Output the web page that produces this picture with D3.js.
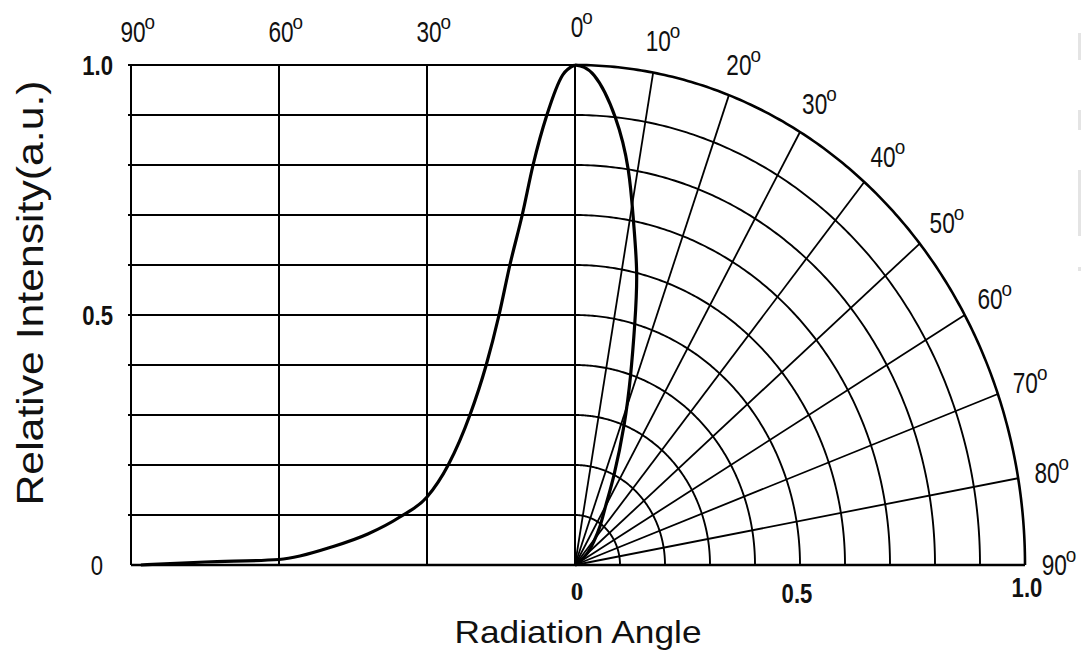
<!DOCTYPE html>
<html lang="en">
<head>
    <title>Radiation Pattern</title>
    <script src="https://d3js.org/d3.v7.min.js"></script>
</head>
<style type="text/css">
    body{ margin:0; background:#fff; }
    svg text{ fill:#111; font-family:"Liberation Sans",Arial,sans-serif; }
    .grid{ stroke:#000; fill:none; }
    .curve{ stroke:#000; stroke-width:3.2; fill:none; stroke-linejoin:round; }
</style>
<body>
<script>
    // radiation pattern (angle in degrees, relative intensity)
    var angles = [0, 2.5, 5.7, 8.5, 10.7, 13.2, 15.4, 18, 21.3, 25.7, 30, 35.5, 42, 49, 60, 75, 88];
    var intensity = [1.0, 0.98, 0.9, 0.8, 0.7, 0.6, 0.5, 0.4, 0.3, 0.2, 0.136, 0.096, 0.062, 0.037, 0.011, 0.006, 0.0];

    var leftTicks = [90, 60, 30, 0];            // top labels of the cartesian part
    var polarTicks = [10, 20, 30, 40, 50, 60, 70, 80, 90];
    var yTicks = [0, 0.5, 1.0];
    var rTicks = [0.5, 1.0];
    var rings = d3.range(1, 11).map(function(d){ return d / 10; });

    var width = 1081, height = 654;

    var svg = d3.select("body").append("svg")
        .attr("width", width)
        .attr("height", height);

    // scales: cartesian angle axis, intensity axis, polar radius (x direction)
    var x = d3.scaleLinear().domain([90, 0]).range([131, 575]);
    var y = d3.scaleLinear().domain([0, 1]).range([565, 65]);
    var rx = d3.scaleLinear().domain([0, 1]).range([575, 1025]);

    var rad = function(a){ return a * Math.PI / 180; };

    // horizontal grid on the left half
    svg.append("g").selectAll("line")
        .data(rings)
        .enter().append("line")
        .attr("class", "grid")
        .attr("stroke-width", 2)
        .attr("x1", x(90) - 3).attr("x2", x(0))
        .attr("y1", function(d){ return y(d); })
        .attr("y2", function(d){ return y(d); });

    // vertical grid lines + left border
    svg.append("g").selectAll("line")
        .data(leftTicks)
        .enter().append("line")
        .attr("class", "grid")
        .attr("stroke-width", 2)
        .attr("x1", function(d){ return x(d); })
        .attr("x2", function(d){ return x(d); })
        .attr("y1", y(0)).attr("y2", y(1));

    // bottom axis line across both halves
    svg.append("line").attr("class", "grid")
        .attr("stroke-width", 2.4)
        .attr("x1", x(90)).attr("x2", rx(1))
        .attr("y1", y(0)).attr("y2", y(0));

    // polar rings (quarter ellipses since x and y scales differ)
    var arcPath = function(r){
        return d3.line()
            .x(function(a){ return rx(r * Math.sin(rad(a))); })
            .y(function(a){ return y(r * Math.cos(rad(a))); })
            (d3.range(0, 90.5, 0.5));
    };
    svg.append("g").selectAll("path")
        .data(rings)
        .enter().append("path")
        .attr("class", "grid")
        .attr("stroke-width", function(d){ return d === 1 ? 2.6 : 1.9; })
        .attr("d", arcPath);

    // radial spokes
    svg.append("g").selectAll("line")
        .data(polarTicks.slice(0, 8))
        .enter().append("line")
        .attr("class", "grid")
        .attr("stroke-width", 1.8)
        .attr("x1", rx(0)).attr("y1", y(0))
        .attr("x2", function(d){ return rx(Math.sin(rad(d))); })
        .attr("y2", function(d){ return y(Math.cos(rad(d))); });

    // the data
    var pts = angles.map(function(a, i){ return {a: a, v: intensity[i]}; });

    svg.append("path").attr("class", "curve")
        .attr("d", d3.line()
            .curve(d3.curveMonotoneX)
            .x(function(d){ return x(d.a); })
            .y(function(d){ return y(d.v); })(pts));

    svg.append("path").attr("class", "curve")
        .attr("d", d3.line()
            .curve(d3.curveNatural)
            .x(function(d){ return rx(d.v * Math.sin(rad(d.a))); })
            .y(function(d){ return y(d.v * Math.cos(rad(d.a))); })(pts));

    // narrow text: regular font squeezed horizontally
    function narrow(sel, cx, cy, sx){
        return sel.attr("transform", "translate(" + cx + "," + cy + ") scale(" + sx + ",1)");
    }

    // degree labels with little superscript "o"
    function degLabel(cx, cy, txt){
        var t = narrow(svg.append("text"), cx, cy, 0.78)
            .attr("text-anchor", "middle")
            .style("font-size", "29px")
            .text(txt);
        var w = t.node().getComputedTextLength() * 0.78;
        narrow(svg.append("text"), cx + w / 2 - 1, cy - 13, 0.9)
            .style("font-size", "21px")
            .text("o");
    }
    leftTicks.forEach(function(d){
        degLabel(x(d) + 2, d === 0 ? 37 : 42, d);
    });
    polarTicks.forEach(function(d){
        var r = 1.065;
        degLabel(rx(r * Math.sin(rad(d))), y(r * Math.cos(rad(d))) + 10, d);
    });

    // intensity ticks on the left
    svg.append("g").selectAll("text")
        .data(yTicks)
        .enter().append("text")
        .each(function(d){ narrow(d3.select(this), d === 0 ? 103 : 113, y(d) + 10, 0.82); })
        .attr("text-anchor", "end")
        .style("font-size", "27px")
        .style("font-weight", function(d){ return d === 0 ? "normal" : "bold"; })
        .text(function(d){ return d === 0 ? "0" : d.toFixed(1); });

    // radius ticks under the polar part
    svg.append("text")
        .attr("x", rx(0) + 2).attr("y", 600)
        .attr("text-anchor", "middle")
        .style("font-family", "'Liberation Serif',serif")
        .style("font-weight", "bold")
        .style("font-size", "25px")
        .text("0");
    svg.append("g").selectAll("text")
        .data(rTicks)
        .enter().append("text")
        .each(function(d){
            narrow(d3.select(this), rx(d) + (d === 1 ? 2 : -3), d === 1 ? 597 : 603, 0.82);
        })
        .attr("text-anchor", "middle")
        .style("font-size", "27px")
        .style("font-weight", "bold")
        .text(function(d){ return d.toFixed(1); });

    // axis titles
    svg.append("text")
        .attr("transform", "translate(43," + 293 + ") rotate(-90)")
        .attr("text-anchor", "middle")
        .style("font-size", "36px")
        .attr("textLength", 425)
        .attr("lengthAdjust", "spacingAndGlyphs")
        .text("Relative Intensity(a.u.)");

    svg.append("text")
        .attr("x", 578).attr("y", 643)
        .attr("text-anchor", "middle")
        .style("font-size", "32px")
        .attr("textLength", 247)
        .attr("lengthAdjust", "spacingAndGlyphs")
        .text("Radiation Angle");

    // faint scan marks at the right border of the original
    var edgeMarks = [[33, 60], [110, 130], [170, 236], [267, 271]];
    svg.append("g").selectAll("rect")
        .data(edgeMarks)
        .enter().append("rect")
        .attr("x", 1078).attr("width", 3)
        .attr("y", function(d){ return d[0]; })
        .attr("height", function(d){ return d[1] - d[0]; })
        .attr("fill", "#e4e4e4");
</script>
</body>
</html>
